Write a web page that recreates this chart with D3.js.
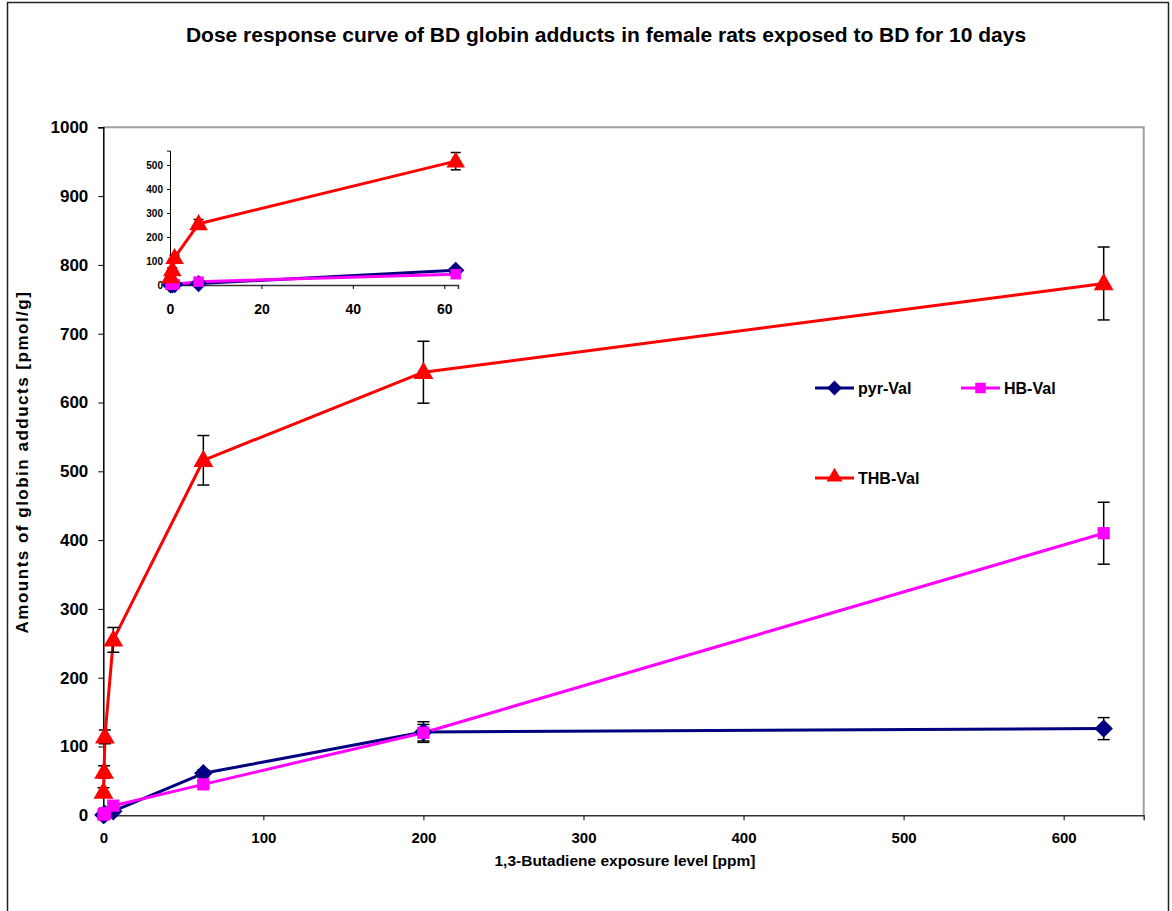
<!DOCTYPE html>
<html>
<head>
<meta charset="utf-8">
<script src="https://cdn.jsdelivr.net/npm/d3@7"></script>
<style>
  html, body { margin: 0; padding: 0; background: #fff; }
  svg { display: block; }
  text { font-family: "Liberation Sans Narrow", "Arial Narrow", "Liberation Sans", Arial, sans-serif; font-weight: bold; fill: #000; }
</style>
</head>
<body>
<svg id="chart" width="1172" height="911"></svg>
<script>
// Exposure levels (ppm) and adduct amounts (pmol/g), mean and SD
const doses   = [0.1, 0.5, 1.0, 6.25, 62.5, 200, 625];
const pyrVal  = [0.5, 1, 2, 6, 61, 121, 126];
const pyrSd   = [0, 0, 0, 2, 5, 15, 16];
const hbVal   = [1, 2, 3, 14, 45, 120, 410];
const hbSd    = [0, 0, 1, 2, 4, 12, 45];
const thbVal  = [34, 63, 114, 255, 516, 644, 773];
const thbSd   = [6, 9, 10, 18, 36, 45, 53];

const seriesNames = ["pyr-Val", "HB-Val", "THB-Val"];
const xTicks = [0, 100, 200, 300, 400, 500, 600];
const yTicks = [0, 100, 200, 300, 400, 500, 600, 700, 800, 900, 1000];
const insetXTicks = [0, 20, 40, 60];
const insetYTicks = [0, 100, 200, 300, 400, 500];

const title = "Dose response curve of BD globin adducts in female rats exposed to BD for 10 days";
const xTitle = "1,3-Butadiene exposure level [ppm]";
const yTitle = "Amounts of globin adducts [pmol/g]";

// square-rotated diamond (equal width and height)
const diamond = {
  draw(ctx, size) {
    const r = Math.sqrt(size / 2);
    ctx.moveTo(0, -r); ctx.lineTo(r, 0); ctx.lineTo(0, r); ctx.lineTo(-r, 0); ctx.closePath();
  }
};

const series = [
  { name: seriesNames[0], vals: pyrVal, sd: pyrSd, color: "#000080", shape: diamond },
  { name: seriesNames[1], vals: hbVal,  sd: hbSd,  color: "#ff00ff", shape: d3.symbolSquare },
  { name: seriesNames[2], vals: thbVal, sd: thbSd, color: "#ff0000", shape: d3.symbolTriangle }
];

const svg = d3.select("#chart");

// outer chart frame
svg.append("rect").attr("x", 7.5).attr("y", 2.5).attr("width", 1161).attr("height", 915)
  .attr("fill", "none").attr("stroke", "#222").attr("stroke-width", 1.5);

svg.append("text").attr("x", 606).attr("y", 42).attr("text-anchor", "middle")
  .style("font-size", "21px").text(title);

// main plot
const x = d3.scaleLinear().domain([0, 650]).range([103.3, 1143.7]);
const y = d3.scaleLinear().domain([0, 1000]).range([815.3, 127.3]);

// plot-area border (top/right)
svg.append("path")
  .attr("d", `M${x(0)},${y(1000)}H${x(650)}V${y(0)}`)
  .attr("fill", "none").attr("stroke", "#a0a0a0").attr("stroke-width", 2);

const yAxis = svg.append("g").attr("transform", `translate(${x(0)},0)`)
  .call(d3.axisLeft(y).tickValues(yTicks).tickFormat(d3.format("d")).tickSize(5).tickPadding(10));
yAxis.select(".domain").attr("stroke", "#000").attr("stroke-width", 1.5);
yAxis.selectAll(".tick line").attr("stroke", "#000");
yAxis.selectAll("text").style("font-family", "'Liberation Sans', Arial, sans-serif")
  .style("font-size", "17px");

const xAxis = svg.append("g").attr("transform", `translate(0,${y(0)})`)
  .call(d3.axisBottom(x).tickValues(xTicks).tickFormat(d3.format("d")).tickSize(5).tickPadding(12));
xAxis.select(".domain").attr("stroke", "#333").attr("stroke-width", 1.5);
xAxis.selectAll(".tick line").attr("stroke", "#000");
xAxis.selectAll("text").style("font-size", "15px");

svg.append("text").attr("x", 625).attr("y", 866).attr("text-anchor", "middle")
  .style("font-size", "15.5px").text(xTitle);

svg.append("text").attr("transform", "translate(28,462) rotate(-90)").attr("text-anchor", "middle")
  .style("font-size", "17px").style("letter-spacing", "1.5px")
  .style("font-family", "'Liberation Sans', Arial, sans-serif").text(yTitle);

function drawSeries(g, xs, ys, data, opts) {
  const line = d3.line().x(d => xs(d.x)).y(d => ys(d.y));
  data.forEach(s => {
    const pts = doses.map((d, i) => ({ x: d, y: s.vals[i], sd: s.sd[i] }))
      .filter(p => p.x <= xs.domain()[1]);
    g.append("path").datum(pts).attr("d", line).attr("fill", "none")
      .attr("stroke", s.color).attr("stroke-width", opts.lw).attr("stroke-linejoin", "round");
    if (opts.err) {
      const eb = g.append("g").attr("stroke", "#000").attr("stroke-width", 1.5);
      pts.filter(p => p.sd > 0).forEach(p => {
        const cx = xs(p.x), y1 = ys(p.y + p.sd), y2 = ys(p.y - p.sd);
        eb.append("line").attr("x1", cx).attr("x2", cx).attr("y1", y1).attr("y2", y2);
        eb.append("line").attr("x1", cx - opts.cap).attr("x2", cx + opts.cap).attr("y1", y1).attr("y2", y1);
        eb.append("line").attr("x1", cx - opts.cap).attr("x2", cx + opts.cap).attr("y1", y2).attr("y2", y2);
      });
    }
    s.pts = pts;
  });
  data.forEach(s => {
    const size = s.shape === d3.symbolTriangle ? opts.tri : (s.shape === d3.symbolSquare ? opts.sq : opts.dia);
    g.selectAll(null).data(s.pts).join("path")
      .attr("transform", p => `translate(${xs(p.x)},${ys(p.y) + (s.shape === d3.symbolTriangle ? opts.triOff : 0)})`)
      .attr("d", d3.symbol().type(s.shape).size(size))
      .attr("fill", s.color);
  });
}

drawSeries(svg.append("g"), x, y, series, { lw: 3, err: true, cap: 6, tri: 170, sq: 150, dia: 170, triOff: 1 });

// legend
const legend = [
  { s: series[0], lx: 815, ly: 388 },
  { s: series[1], lx: 961, ly: 388 },
  { s: series[2], lx: 815, ly: 478 }
];
legend.forEach(l => {
  const g = svg.append("g");
  g.append("line").attr("x1", l.lx).attr("x2", l.lx + 39).attr("y1", l.ly).attr("y2", l.ly)
    .attr("stroke", l.s.color).attr("stroke-width", 3);
  g.append("path").attr("transform", `translate(${l.lx + 19.5},${l.ly + (l.s.shape === d3.symbolTriangle ? -1 : 0)})`)
    .attr("d", d3.symbol().type(l.s.shape).size(110)).attr("fill", l.s.color);
  g.append("text").attr("x", l.lx + 43).attr("y", l.ly + 6).style("font-size", "16px").text(l.s.name);
});

// inset: low-dose range
const ix = d3.scaleLinear().domain([0, 63]).range([170, 458]);
const iy = d3.scaleLinear().domain([0, 560]).range([285, 150.6]);
const inset = svg.append("g");

const iyAxis = inset.append("g").attr("transform", `translate(${ix(0)},0)`)
  .call(d3.axisLeft(iy).tickValues(insetYTicks).tickSize(3).tickPadding(4));
iyAxis.select(".domain").attr("stroke", "#000").attr("stroke-width", 1);
iyAxis.selectAll("text").style("font-size", "10px");

const ixAxis = inset.append("g").attr("transform", `translate(0,${iy(0)})`)
  .call(d3.axisBottom(ix).tickValues(insetXTicks).tickSize(4).tickPadding(15));
ixAxis.select(".domain").attr("stroke", "#333").attr("stroke-width", 1.5);
ixAxis.selectAll("text").style("font-size", "14px");

drawSeries(inset.append("g"), ix, iy, series, { lw: 3, err: true, cap: 5, tri: 150, sq: 110, dia: 150, triOff: 1 });
</script>
</body>
</html>
